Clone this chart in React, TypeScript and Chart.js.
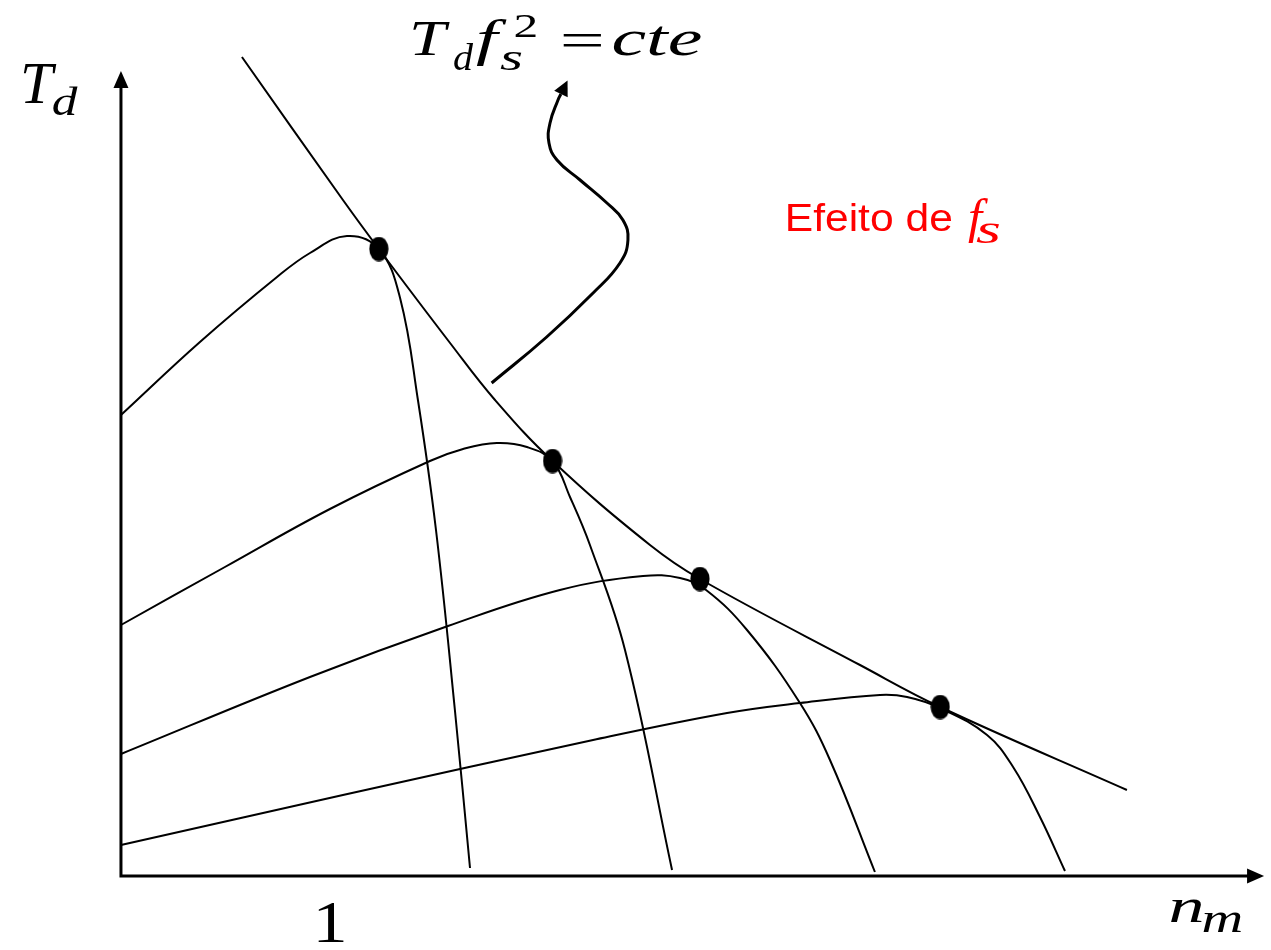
import { useEffect, useRef } from 'react';
import { Chart, registerables } from 'chart.js';

Chart.register(...registerables);

// Axis ranges: x is the per-unit motor speed n_m, y the developed torque T_d.
const X_MIN = -0.576;
const X_MAX = 5.476;
const Y_MIN = -0.74;
const Y_MAX = 8.76;
const X_AXIS_END = 5.443;
const Y_AXIS_END = 8.05;

const xTickValues = [1];
const xTickLabels = ['1'];

// Breakdown-torque envelope (T_d * f_s^2 = constant)
const envelopeSpeed = [0.576, 1.057, 1.228, 1.567, 1.781, 2.055, 2.519, 2.757, 3.519, 3.901, 4.79];
const envelopeTorque = [8.19, 6.76, 6.27, 5.33, 4.76, 4.15, 3.31, 2.97, 2.11, 1.69, 0.86];

// Breakdown points
const dotSpeed = [1.228, 2.055, 2.757, 3.901];
const dotTorque = [6.27, 4.15, 2.97, 1.69];

// Torque-speed curves for increasing supply frequency
const curve1Speed = [0, 0.376, 0.743, 0.9, 1.076, 1.228, 1.329, 1.414, 1.5, 1.59, 1.662];
const curve1Torque = [4.61, 5.34, 5.99, 6.23, 6.4, 6.27, 5.78, 4.76, 3.46, 1.66, 0.08];

const curve2Speed = [0, 0.495, 0.995, 1.471, 1.629, 1.79, 1.933, 2.055, 2.138, 2.233, 2.4, 2.624];
const curve2Torque = [2.51, 3.09, 3.67, 4.15, 4.27, 4.33, 4.29, 4.15, 3.79, 3.31, 2.26, 0.06];

const curve3Speed = [0, 0.9, 1.557, 2.09, 2.486, 2.662, 2.786, 2.981, 3.233, 3.376, 3.59];
const curve3Torque = [1.22, 1.99, 2.5, 2.86, 3.0, 2.98, 2.86, 2.46, 1.73, 1.16, 0.04];

const curve4Speed = [0, 1.057, 2.248, 2.886, 3.233, 3.614, 3.743, 3.9, 4.124, 4.248, 4.376, 4.495];
const curve4Torque = [0.31, 0.81, 1.36, 1.63, 1.73, 1.81, 1.79, 1.68, 1.41, 1.09, 0.59, 0.05];

// Curved pointer towards the envelope equation
const pointerSpeed = [1.765, 2.027, 2.248, 2.376, 2.414, 2.39, 2.314, 2.186, 2.076, 2.038, 2.043, 2.081, 2.095];
const pointerTorque = [4.93, 5.39, 5.83, 6.13, 6.36, 6.56, 6.73, 6.96, 7.16, 7.33, 7.53, 7.76, 7.82];

const toPoints = (xs: number[], ys: number[]) => xs.map((x, i) => ({ x, y: ys[i] }));

type Run = { text: string; font: string; left: number; right: number; baseline: number; color?: string };

// Draws a text run so that its ink spans [left, right] on the given baseline.
function drawRun(ctx: CanvasRenderingContext2D, r: Run) {
  ctx.save();
  ctx.font = r.font;
  ctx.fillStyle = r.color ?? '#000';
  ctx.textAlign = 'left';
  ctx.textBaseline = 'alphabetic';
  const m = ctx.measureText(r.text);
  const inkW = m.actualBoundingBoxRight + m.actualBoundingBoxLeft;
  let sx = inkW > 0 ? (r.right - r.left) / inkW : 1;
  sx = Math.max(0.6, Math.min(1.6, sx));
  ctx.translate(r.left, r.baseline);
  ctx.scale(sx, 1);
  ctx.fillText(r.text, m.actualBoundingBoxLeft, 0);
  ctx.restore();
}

function drawHead(ctx: CanvasRenderingContext2D, bx: number, by: number, dx: number, dy: number, len: number, half: number) {
  const n = Math.hypot(dx, dy) || 1;
  const ux = dx / n;
  const uy = dy / n;
  ctx.beginPath();
  ctx.moveTo(bx + ux * len, by + uy * len);
  ctx.lineTo(bx - uy * half, by + ux * half);
  ctx.lineTo(bx + uy * half, by - ux * half);
  ctx.closePath();
  ctx.fill();
}

const SERIF = '"Liberation Serif", "DejaVu Serif", serif';
const SANS = '"Liberation Sans", Arial, sans-serif';

const axesPlugin = {
  id: 'arrowAxes',
  beforeDatasetsDraw(chart: any) {
    const { ctx } = chart;
    const sx = chart.scales.x;
    const sy = chart.scales.y;
    const x0 = sx.getPixelForValue(0);
    const y0 = sy.getPixelForValue(0);
    const xEnd = sx.getPixelForValue(X_AXIS_END);
    const yEnd = sy.getPixelForValue(Y_AXIS_END);
    const headLen = 17;
    const half = 7.5;
    ctx.save();
    ctx.strokeStyle = '#000';
    ctx.fillStyle = '#000';
    ctx.lineWidth = 3;
    ctx.beginPath();
    ctx.moveTo(x0 - 1.5, y0);
    ctx.lineTo(xEnd - headLen + 1, y0);
    ctx.moveTo(x0, y0 + 1.5);
    ctx.lineTo(x0, yEnd + headLen - 1);
    ctx.stroke();
    drawHead(ctx, xEnd - headLen, y0, 1, 0, headLen, half);
    drawHead(ctx, x0, yEnd + headLen, 0, -1, headLen, half);
    ctx.restore();
  },
};

const pointerHeadPlugin = {
  id: 'pointerHead',
  afterDatasetsDraw(chart: any) {
    const idx = chart.data.datasets.findIndex((d: any) => d.label === 'pointer');
    if (idx < 0) return;
    const pts = chart.getDatasetMeta(idx).data;
    if (pts.length < 2) return;
    const a = pts[pts.length - 2];
    const b = pts[pts.length - 1];
    const { ctx } = chart;
    ctx.save();
    ctx.fillStyle = '#000';
    drawHead(ctx, b.x, b.y, b.x - a.x, b.y - a.y, 15, 7.5);
    ctx.restore();
  },
};

const labelsPlugin = {
  id: 'labels',
  afterDraw(chart: any) {
    const { ctx } = chart;
    const sx = chart.scales.x;
    const runs: Run[] = [
      // T_d f_s^2 = cte
      { text: 'T', font: `italic 50px ${SERIF}`, left: 413, right: 450, baseline: 55 },
      { text: 'd', font: `italic 38px ${SERIF}`, left: 454, right: 474, baseline: 70 },
      { text: 'f', font: `italic 50px ${SERIF}`, left: 476, right: 507, baseline: 55 },
      { text: 's', font: `italic 37px ${SERIF}`, left: 500, right: 523, baseline: 70 },
      { text: '2', font: `33px ${SERIF}`, left: 515, right: 536, baseline: 37 },
      { text: '=', font: `50px ${SERIF}`, left: 563, right: 602, baseline: 57 },
      { text: 'cte', font: `italic 50px ${SERIF}`, left: 613, right: 702, baseline: 55 },
      // y-axis label
      { text: 'T', font: `italic 59px ${SERIF}`, left: 23, right: 57, baseline: 103 },
      { text: 'd', font: `italic 41px ${SERIF}`, left: 53, right: 78, baseline: 115 },
      // x-axis label
      { text: 'n', font: `italic 48px ${SERIF}`, left: 1170, right: 1203, baseline: 922 },
      { text: 'm', font: `italic 40px ${SERIF}`, left: 1203, right: 1242, baseline: 932 },
      // annotation
      { text: 'Efeito de', font: `39px ${SANS}`, left: 788, right: 951, baseline: 231, color: '#ff0000' },
      { text: 'f', font: `italic 48px ${SERIF}`, left: 968, right: 988, baseline: 233, color: '#ff0000' },
      { text: 's', font: `italic 40px ${SERIF}`, left: 976, right: 1000, baseline: 243, color: '#ff0000' },
    ];
    xTickValues.forEach((v, i) => {
      const cx = sx.getPixelForValue(v);
      runs.push({ text: xTickLabels[i], font: `59px ${SERIF}`, left: cx - 12.5, right: cx + 12.5, baseline: 942 });
    });
    runs.forEach((r) => drawRun(ctx, r));
  },
};

export default function App() {
  const canvasRef = useRef<HTMLCanvasElement | null>(null);

  useEffect(() => {
    const canvas = canvasRef.current;
    if (!canvas) return;

    // Elliptical marker for the breakdown points
    const dot = document.createElement('canvas');
    dot.width = 20;
    dot.height = 25;
    const dctx = dot.getContext('2d')!;
    dctx.fillStyle = '#000';
    dctx.beginPath();
    dctx.ellipse(10, 12.5, 9.6, 12.2, 0, 0, Math.PI * 2);
    dctx.fill();

    const line = (label: string, xs: number[], ys: number[], width: number, tension: number) => ({
      label,
      data: toPoints(xs, ys),
      showLine: true,
      borderColor: '#000',
      backgroundColor: '#000',
      borderWidth: width,
      tension,
      pointRadius: 0,
      pointHoverRadius: 0,
      borderJoinStyle: 'round' as const,
      clip: false as const,
    });

    const chart = new Chart(canvas, {
      type: 'scatter',
      data: {
        datasets: [
          {
            label: 'breakdown',
            data: toPoints(dotSpeed, dotTorque),
            showLine: false,
            pointStyle: dot,
            pointRadius: 10,
            pointHoverRadius: 10,
            clip: false,
          } as any,
          line('envelope', envelopeSpeed, envelopeTorque, 2, 0.4),
          line('f1', curve1Speed, curve1Torque, 2, 0.4),
          line('f2', curve2Speed, curve2Torque, 2, 0.4),
          line('f3', curve3Speed, curve3Torque, 2, 0.4),
          line('f4', curve4Speed, curve4Torque, 2, 0.4),
          line('pointer', pointerSpeed, pointerTorque, 3, 0.45),
        ],
      },
      options: {
        responsive: false,
        animation: false,
        layout: { padding: 0, autoPadding: false },
        events: [],
        scales: {
          x: { type: 'linear', min: X_MIN, max: X_MAX, display: false },
          y: { type: 'linear', min: Y_MIN, max: Y_MAX, display: false },
        },
        plugins: {
          legend: { display: false },
          tooltip: { enabled: false },
        },
      },
      plugins: [axesPlugin, pointerHeadPlugin, labelsPlugin],
    });

    return () => chart.destroy();
  }, []);

  return (
    <div style={{ position: 'fixed', left: 0, top: 0, width: 1271, height: 950, background: '#fff' }}>
      <canvas ref={canvasRef} width={1271} height={950} style={{ display: 'block' }} />
    </div>
  );
}
